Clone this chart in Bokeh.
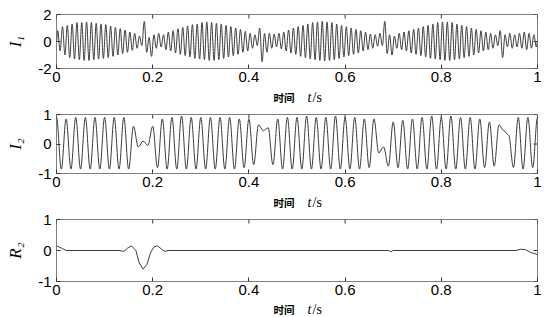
import numpy as np
from bokeh.plotting import figure
from bokeh.layouts import column
from bokeh.models import FixedTicker, Range1d, Label
from bokeh.embed import file_html
from bokeh.resources import INLINE

# ---------------- data ----------------
x_ticks = [0, 0.2, 0.4, 0.6, 0.8, 1]
x_tick_labels = ["0", "0.2", "0.4", "0.6", "0.8", "1"]

# I1: peak / trough values per 0.01 s cycle (peaks at 0.0025+0.01k, troughs at 0.0075+0.01k)
i1_peaks = [0.8, 1.1, 1.2, 1.3, 1.4, 1.4, 1.45, 1.4, 1.35, 1.3,
            1.25, 1.15, 1.05, 0.95, 0.85, 0.7, 0.6, 0.4, 1.5, 0.3,
            0.5, 0.6, 0.5, 0.7, 0.8, 0.95, 1.05, 1.15, 1.25, 1.3,
            1.4, 1.45, 1.4, 1.35, 1.3, 1.2, 1.1, 1.0, 0.9, 0.75,
            0.6, 0.5, 1.0, 0.6, 0.6, 0.55, 0.6, 0.7, 0.85, 1.0,
            1.1, 1.2, 1.3, 1.4, 1.45, 1.5, 1.45, 1.4, 1.3, 1.2,
            1.1, 1.0, 0.9, 0.8, 0.7, 0.55, 0.5, 0.6, 1.5, 0.5,
            0.4, 0.6, 0.7, 0.8, 0.9, 1.0, 1.1, 1.2, 1.3, 1.4,
            1.45, 1.45, 1.4, 1.3, 1.2, 1.1, 1.0, 0.9, 0.8, 0.7,
            0.6, 0.5, 0.8, 0.5, 0.6, 0.5, 0.6, 0.7, 0.6, 0.5]
i1_troughs = [-0.7, -1.0, -1.2, -1.3, -1.35, -1.4, -1.4, -1.35, -1.3, -1.25,
              -1.2, -1.1, -1.0, -0.9, -0.8, -0.65, -0.5, -0.3, -0.8, -1.1,
              -0.5, -0.4, -0.6, -0.7, -0.85, -0.95, -1.05, -1.15, -1.25, -1.3,
              -1.35, -1.4, -1.4, -1.35, -1.25, -1.15, -1.05, -0.95, -0.8, -0.7,
              -0.5, -0.3, -1.5, -0.8, -0.5, -0.4, -0.55, -0.7, -0.85, -0.95,
              -1.1, -1.2, -1.3, -1.35, -1.4, -1.45, -1.4, -1.35, -1.25, -1.15,
              -1.05, -0.95, -0.85, -0.7, -0.6, -0.5, -0.35, -0.3, -0.9, -1.0,
              -0.5, -0.6, -0.7, -0.85, -0.95, -1.05, -1.15, -1.25, -1.3, -1.35,
              -1.4, -1.4, -1.35, -1.3, -1.2, -1.1, -1.0, -0.85, -0.7, -0.6,
              -0.5, -0.3, -1.2, -0.4, -0.5, -0.4, -0.5, -0.6, -0.5, -0.4]

# I2: peaks at 0.02k, troughs at 0.01+0.02k
i2_peaks = [0.9, 0.85, 0.9, 0.9, 0.9, 0.9, 0.9, 0.9, 0.6, 0.1,
            0.6, 0.85, 0.9, 0.95, 0.9, 0.9, 0.9, 0.9, 0.9, 0.85,
            0.85, 0.65, 0.55, 0.85, 0.9, 0.9, 0.95, 0.9, 0.9, 0.95,
            0.9, 0.9, 0.85, 0.85, -0.1, 0.75, 0.8, 0.85, 0.9, 0.95,
            0.9, 0.95, 0.9, 0.9, 0.85, 0.75, 0.65, 0.3, 0.9, 0.9, 0.9]
i2_troughs = [-0.85, -0.85, -0.85, -0.85, -0.85, -0.85, -0.85, -0.85, -0.1, -0.05,
              -0.8, -0.85, -0.85, -0.85, -0.85, -0.85, -0.85, -0.85, -0.85, -0.8,
              -0.7, 0.45, -0.7, -0.85, -0.85, -0.85, -0.85, -0.85, -0.85, -0.85,
              -0.85, -0.85, -0.8, -0.3, -0.75, -0.8, -0.85, -0.85, -0.85, -0.85,
              -0.85, -0.85, -0.85, -0.85, -0.8, -0.75, 0.45, -0.8, -0.85, -0.8]

# R2
r2_t = [0, 0.01, 0.02, 0.13, 0.14, 0.148, 0.156, 0.165, 0.172, 0.18, 0.188, 0.196,
        0.203, 0.21, 0.218, 0.225, 0.232, 0.69, 0.695, 0.70, 0.955, 0.965, 0.975, 0.985, 1.0]
r2_v = [0.15, 0.08, 0.0, 0.0, -0.03, 0.08, 0.15, 0.0, -0.4, -0.6, -0.45, -0.05,
        0.12, 0.15, 0.05, -0.03, 0.0, 0.0, -0.04, 0.0, 0.0, 0.04, 0.03, -0.06, -0.13]

# ---------------- assemble series (extrema in time order) ----------------
k1 = np.arange(len(i1_peaks))
t1 = np.empty(2 * len(k1) + 2)
v1 = np.empty(2 * len(k1) + 2)
t1[0], v1[0] = 0.0, 0.0
t1[1:-1:2] = 0.0025 + 0.01 * k1
t1[2:-1:2] = 0.0075 + 0.01 * k1
v1[1:-1:2] = i1_peaks
v1[2:-1:2] = i1_troughs
t1[-1], v1[-1] = 1.0, 0.0

t2p = 0.02 * np.arange(len(i2_peaks))
t2t = 0.01 + 0.02 * np.arange(len(i2_troughs))
t2 = np.empty(len(t2p) + len(t2t))
v2 = np.empty_like(t2)
t2[0::2] = t2p
t2[1::2] = t2t
v2[0::2] = i2_peaks
v2[1::2] = i2_troughs

LINE = "#3c3c3c"
TICKFONT = "Liberation Sans"
TICKCOL = "#333333"
W = 547
LEFT, RIGHT = 56, 10


def curve(p, t, v):
    # smooth curve between successive extrema (horizontal tangents at each extremum)
    t = np.asarray(t, float)
    v = np.asarray(v, float)
    dt = t[1:] - t[:-1]
    p.bezier(x0=t[:-1], y0=v[:-1], x1=t[1:], y1=v[1:],
             cx0=t[:-1] + 0.36 * dt, cy0=v[:-1],
             cx1=t[1:] - 0.36 * dt, cy1=v[1:],
             line_color=LINE, line_width=1)


def make_panel(top, frame_h, bottom, yr, yticks, ylabel):
    p = figure(width=W, height=top + frame_h + bottom, output_backend="svg",
               toolbar_location=None, x_range=Range1d(0, 1), y_range=Range1d(*yr),
               min_border_left=LEFT, min_border_right=RIGHT,
               min_border_top=top, min_border_bottom=bottom)
    p.background_fill_color = "white"
    p.border_fill_color = "white"
    p.outline_line_color = "#7f7f7f"
    p.grid.visible = False

    p.xaxis.ticker = FixedTicker(ticks=x_ticks)
    p.xaxis.major_label_overrides = dict(zip(x_ticks, x_tick_labels))
    p.yaxis.ticker = FixedTicker(ticks=yticks)
    p.yaxis.major_label_overrides = {tk: (str(tk) if tk >= 0 else "-" + str(-tk)) for tk in yticks}
    for ax in (p.xaxis[0], p.yaxis[0]):
        ax.axis_line_color = None
        ax.major_tick_in = 4
        ax.major_tick_out = 0
        ax.major_tick_line_color = TICKCOL
        ax.minor_tick_line_color = None
        ax.major_label_text_font = TICKFONT
        ax.major_label_text_font_size = "15px"
        ax.major_label_text_color = "black"
    p.xaxis.major_label_standoff = 3
    p.yaxis.major_label_standoff = 5
    p.yaxis.axis_label = ylabel
    p.yaxis.axis_label_text_font = "Liberation Serif"
    p.yaxis.axis_label_text_font_style = "italic"
    p.yaxis.axis_label_text_font_size = "17px"
    p.yaxis.axis_label_text_color = "black"
    p.yaxis.axis_label_standoff = 10

    # inward ticks on the top and right edges of the box
    p.ray(x=x_ticks, y=[yr[1]] * len(x_ticks), length=4, length_units="screen",
          angle=-np.pi / 2, line_color=TICKCOL, line_width=1)
    p.ray(x=[1] * len(yticks), y=yticks, length=4, length_units="screen",
          angle=np.pi, line_color=TICKCOL, line_width=1)
    return p


def xlabel_strip(h, center_from_top):
    s = figure(width=W, height=h, output_backend="svg", toolbar_location=None,
               x_range=Range1d(0, 1), y_range=Range1d(0, 1),
               x_axis_location=None, y_axis_location=None,
               min_border_left=LEFT, min_border_right=RIGHT,
               min_border_top=0, min_border_bottom=0)
    s.outline_line_color = None
    s.background_fill_color = "white"
    s.border_fill_color = "white"
    s.grid.visible = False
    y = h - center_from_top
    for x, txt, font, size, style in [(217, "时间", "Noto Sans CJK SC", "10.5px", "bold"),
                                      (251, "t", "Liberation Serif", "14px", "italic"),
                                      (256, "/s", "Liberation Serif", "14px", "normal")]:
        s.add_layout(Label(x=x, y=y, x_units="screen", y_units="screen", text=txt,
                           text_font=font, text_font_size=size, text_font_style=style,
                           text_baseline="middle", text_color="black"))
    return s


p1 = make_panel(14, 54, 20, (-2, 2), [-2, 0, 2], "I\u2081")   # 0..88
curve(p1, t1, v1)
s1 = xlabel_strip(17, 8.5)                                      # 88..105
p2 = make_panel(9, 59, 20, (-1, 1), [-1, 0, 1], "I\u2082")    # 105..193
curve(p2, t2, v2)
s2 = xlabel_strip(17, 8.5)                                      # 193..210
p3 = make_panel(9, 62, 20, (-1, 1), [-1, 0, 1], "R\u2082")    # 210..301
p3.line(r2_t, r2_v, line_color=LINE, line_width=1)
s3 = xlabel_strip(16, 8)                                        # 301..317

layout = column(p1, s1, p2, s2, p3, s3, spacing=0)
open("out.html", "w").write(file_html(layout, INLINE))
